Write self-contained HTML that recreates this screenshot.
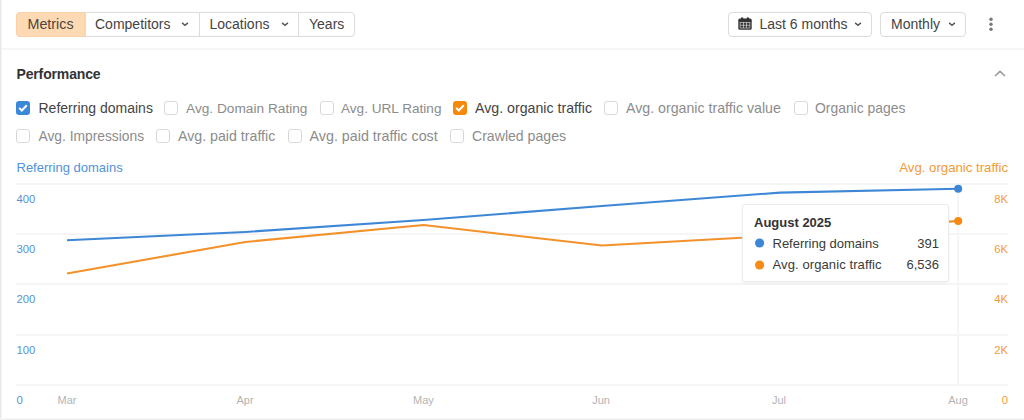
<!DOCTYPE html>
<html><head><meta charset="utf-8">
<style>
*{box-sizing:border-box;margin:0;padding:0}
html,body{width:1024px;height:420px;overflow:hidden;background:#fff}
body{position:relative;font-family:"Liberation Sans",sans-serif;color:#333}
.a{position:absolute;white-space:nowrap;line-height:1}
.bl{position:absolute;left:0;top:0;width:1px;height:420px;background:#e6e6e6;box-shadow:1px 0 0 #f6f6f6}
.bb{position:absolute;left:0;top:419px;width:1024px;height:1px;background:#ededed;box-shadow:0 -1px 0 #f9f9f9}
.sep{position:absolute;left:1px;top:48px;width:1023px;height:2px;background:#f5f5f5}
.grp{position:absolute;left:16px;top:12px;width:339px;height:25px;border:1px solid #dcdcdc;border-radius:4px}
.seg{position:absolute;top:0;height:23px;border-left:1px solid #dcdcdc}
.btn{position:absolute;top:12px;height:25px;border:1px solid #dcdcdc;border-radius:4px}
.t14{font-size:14px;color:#444}
.chev{position:absolute}
.cb{position:absolute;width:14px;height:14px;border:1px solid #d9d9d9;border-radius:3px;background:#fff}
.cb.on{border:none}
.lab{font-size:14px;color:#8c8c8c}
.lab.dk{color:#444}
.grid{position:absolute;left:16px;width:992px;height:2px;background:#f5f5f5}
.ax{font-size:11.3px}
.axl{color:#5a92d0}
.axr{color:#f29b3a}
.xl{font-size:11px;color:#b3b3b3}
</style></head>
<body>
<div class="bl"></div>
<div class="bb"></div>
<div class="sep"></div>

<!-- segmented group -->
<div class="grp">
  <div style="position:absolute;left:-1px;top:-1px;width:69px;height:25px;background:#fdd9b4;border:1px solid #fcd2a6;border-radius:4px 0 0 4px"></div>
  <div class="seg" style="left:68px;"></div>
  <div class="seg" style="left:182px;"></div>
  <div class="seg" style="left:281px;"></div>
</div>
<div class="a t14" style="left:27.5px;top:17px;font-size:14.3px;color:#52443a">Metrics</div>
<div class="a t14" style="left:95px;top:17px;">Competitors</div>
<svg class="chev" style="left:181px;top:21px" width="8" height="6" viewBox="0 0 8 6"><path d="M1.1 1.9l2.9 2.5 2.9-2.5" fill="none" stroke="#555" stroke-width="1.4"/></svg>
<div class="a t14" style="left:209.5px;top:17px;">Locations</div>
<svg class="chev" style="left:281px;top:21px" width="8" height="6" viewBox="0 0 8 6"><path d="M1.1 1.9l2.9 2.5 2.9-2.5" fill="none" stroke="#555" stroke-width="1.4"/></svg>
<div class="a t14" style="left:309px;top:17px;">Years</div>

<!-- right buttons -->
<div class="btn" style="left:728px;width:144px"></div>
<svg style="position:absolute;left:738px;top:17px" width="14" height="13" viewBox="0 0 14 13">
  <rect x="0.3" y="1.6" width="13.4" height="11.2" rx="1.6" fill="#333"/>
  <rect x="3" y="0.2" width="2.2" height="3" rx="1" fill="#333"/>
  <rect x="8.8" y="0.2" width="2.2" height="3" rx="1" fill="#333"/>
  <rect x="1.8" y="5" width="10.4" height="6.3" fill="#fff"/>
  <rect x="2.3" y="5.5" width="2.8" height="2.4" fill="#3a3a3a"/><rect x="5.6" y="5.5" width="2.8" height="2.4" fill="#3a3a3a"/><rect x="8.9" y="5.5" width="2.8" height="2.4" fill="#3a3a3a"/>
  <rect x="2.3" y="8.4" width="2.8" height="2.4" fill="#3a3a3a"/><rect x="5.6" y="8.4" width="2.8" height="2.4" fill="#3a3a3a"/><rect x="8.9" y="8.4" width="2.8" height="2.4" fill="#3a3a3a"/>
</svg>
<div class="a t14" style="left:759.5px;top:17px;">Last 6 months</div>
<svg class="chev" style="left:854px;top:21px" width="8" height="6" viewBox="0 0 8 6"><path d="M1.1 1.9l2.9 2.5 2.9-2.5" fill="none" stroke="#555" stroke-width="1.4"/></svg>
<div class="btn" style="left:880px;width:86px"></div>
<div class="a t14" style="left:891px;top:17px;">Monthly</div>
<svg class="chev" style="left:947.5px;top:21px" width="8" height="6" viewBox="0 0 8 6"><path d="M1.1 1.9l2.9 2.5 2.9-2.5" fill="none" stroke="#555" stroke-width="1.4"/></svg>
<svg style="position:absolute;left:988px;top:16px" width="6" height="16" viewBox="0 0 6 16"><circle cx="3" cy="3.2" r="1.7" fill="#777"/><circle cx="3" cy="8.3" r="1.7" fill="#777"/><circle cx="3" cy="13.3" r="1.7" fill="#777"/></svg>

<!-- performance -->
<div class="a" style="left:16.5px;top:66.5px;font-size:14px;letter-spacing:-0.15px;font-weight:700;color:#333">Performance</div>
<svg style="position:absolute;left:993px;top:68.5px" width="14" height="10" viewBox="0 0 14 10"><path d="M2 7l5-4.6 5 4.6" fill="none" stroke="#999" stroke-width="1.6"/></svg>

<!-- checkboxes row 1 -->
<svg style="position:absolute;left:16px;top:101px" width="14" height="14" viewBox="0 0 14 14"><rect width="14" height="14" rx="3" fill="#3b87d8"/><path d="M3.2 6.9l2.6 2.6 5-5.2" fill="none" stroke="#fff" stroke-width="2"/></svg>
<div class="a lab dk" style="left:38.5px;top:101px">Referring domains</div>
<div class="cb" style="left:164px;top:101px"></div>
<div class="a lab" style="left:186px;top:102px;font-size:13.7px">Avg. Domain Rating</div>
<div class="cb" style="left:319.5px;top:101px"></div>
<div class="a lab" style="left:341px;top:102px;font-size:13.6px">Avg. URL Rating</div>
<svg style="position:absolute;left:452.5px;top:101px" width="14" height="14" viewBox="0 0 14 14"><rect width="14" height="14" rx="3" fill="#f5890c"/><path d="M3.2 6.9l2.6 2.6 5-5.2" fill="none" stroke="#fff" stroke-width="2"/></svg>
<div class="a lab dk" style="left:475px;top:101px;font-size:14.2px">Avg. organic traffic</div>
<div class="cb" style="left:604px;top:101px"></div>
<div class="a lab" style="left:626px;top:101px;font-size:14.2px">Avg. organic traffic value</div>
<div class="cb" style="left:793.5px;top:101px"></div>
<div class="a lab" style="left:815px;top:102px;font-size:13.9px">Organic pages</div>

<!-- row 2 -->
<div class="cb" style="left:16px;top:129px"></div>
<div class="a lab" style="left:38.5px;top:130px;font-size:13.8px">Avg. Impressions</div>
<div class="cb" style="left:156px;top:129px"></div>
<div class="a lab" style="left:178px;top:129px;font-size:14.2px">Avg. paid traffic</div>
<div class="cb" style="left:288px;top:129px"></div>
<div class="a lab" style="left:309.5px;top:129px;font-size:14.3px">Avg. paid traffic cost</div>
<div class="cb" style="left:450px;top:129px"></div>
<div class="a lab" style="left:472px;top:129px;font-size:14.1px">Crawled pages</div>

<!-- chart labels -->
<div class="a" style="left:16.5px;top:161px;font-size:13px;color:#4f93d8">Referring domains</div>
<div class="a" style="right:16px;top:161px;font-size:13.2px;color:#f29a35;text-align:right">Avg. organic traffic</div>

<!-- grid -->
<div class="grid" style="top:183px"></div>
<div class="grid" style="top:233px"></div>
<div class="grid" style="top:283px"></div>
<div class="grid" style="top:334px"></div>
<div class="grid" style="top:384px"></div>
<div style="position:absolute;left:957.2px;top:184px;width:2px;height:201px;background:#f6f6f6"></div>

<!-- axis left -->
<div class="a ax axl" style="left:16.5px;top:193.5px">400</div>
<div class="a ax axl" style="left:16.5px;top:243.5px">300</div>
<div class="a ax axl" style="left:16.5px;top:294px">200</div>
<div class="a ax axl" style="left:16.5px;top:344.5px">100</div>
<div class="a ax axl" style="left:16.5px;top:394.5px">0</div>
<!-- axis right -->
<div class="a ax axr" style="right:16px;top:193.5px">8K</div>
<div class="a ax axr" style="right:16px;top:243.5px">6K</div>
<div class="a ax axr" style="right:16px;top:294px">4K</div>
<div class="a ax axr" style="right:16px;top:344.5px">2K</div>
<div class="a ax axr" style="right:16px;top:394.5px">0</div>
<!-- x labels -->
<div class="a xl" style="left:57px;top:395px;width:20px;text-align:center">Mar</div>
<div class="a xl" style="left:235px;top:395px;width:20px;text-align:center">Apr</div>
<div class="a xl" style="left:413px;top:395px;width:20px;text-align:center">May</div>
<div class="a xl" style="left:591px;top:395px;width:20px;text-align:center">Jun</div>
<div class="a xl" style="left:769px;top:395px;width:20px;text-align:center">Jul</div>
<div class="a xl" style="left:948px;top:395px;width:20px;text-align:center">Aug</div>

<!-- lines -->
<svg style="position:absolute;left:0;top:0" width="1024" height="420">
  <polyline points="67,240.3 245.3,232 423.6,220 601.9,206 780.2,192.6 958.3,188.7" fill="none" stroke="#3d87d6" stroke-width="2.1" stroke-linejoin="round"/>
  <polyline points="67,273.5 245.3,242 423.6,225 601.9,245.5 780.2,235.6 958.3,220.9" fill="none" stroke="#f3912a" stroke-width="2.1" stroke-linejoin="round"/>
  <circle cx="958.2" cy="188.8" r="4" fill="#3d87d6"/>
  <circle cx="958.2" cy="221" r="4" fill="#f58b12"/>
</svg>

<!-- tooltip -->
<div style="position:absolute;left:742px;top:204px;width:207px;height:78px;background:#fff;border:1px solid #ebebeb;border-radius:3px;box-shadow:0 1px 3px rgba(0,0,0,0.05)"></div>
<div class="a" style="left:754px;top:215.5px;font-size:13px;font-weight:700;color:#333">August 2025</div>
<svg style="position:absolute;left:755px;top:238px" width="10" height="10"><circle cx="4.6" cy="5" r="4.6" fill="#3d87d6"/></svg>
<div class="a" style="left:772.5px;top:236.5px;font-size:13px;color:#3a3a3a">Referring domains</div>
<div class="a" style="right:85px;top:236.5px;font-size:13px;color:#3a3a3a">391</div>
<svg style="position:absolute;left:755px;top:260px" width="10" height="10"><circle cx="4.6" cy="5" r="4.6" fill="#f58b12"/></svg>
<div class="a" style="left:772.5px;top:258px;font-size:13px;letter-spacing:0.1px;color:#3a3a3a">Avg. organic traffic</div>
<div class="a" style="right:85px;top:258px;font-size:13px;color:#3a3a3a">6,536</div>
</body></html>
